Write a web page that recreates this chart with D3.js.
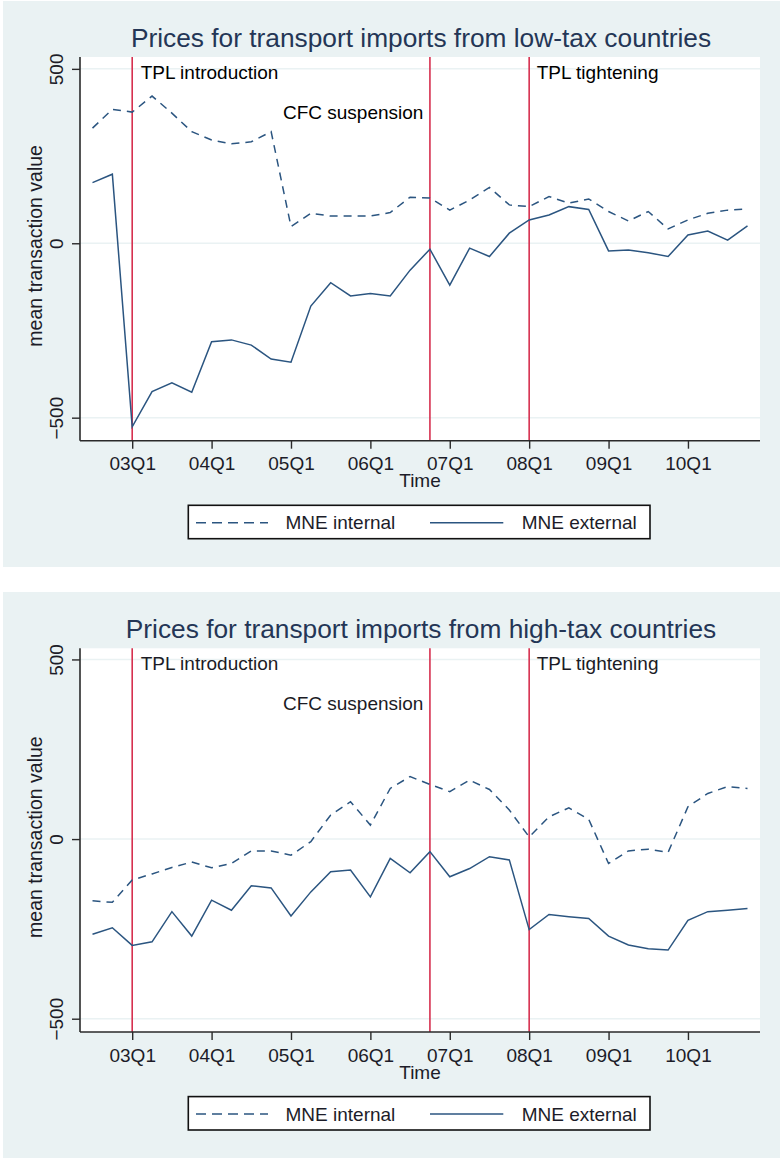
<!DOCTYPE html>
<html>
<head>
<meta charset="utf-8">
<script src="https://cdn.jsdelivr.net/npm/d3@7"></script>
<style>
  html, body { margin: 0; padding: 0; background: #ffffff; }
  svg { display: block; }
  text { font-family: "Liberation Sans", Arial, sans-serif; }
</style>
</head>
<body>
<svg id="chart" width="780" height="1158"></svg>
<script>
// ---------- data ----------
const quarters = ["02Q3","02Q4","03Q1","03Q2","03Q3","03Q4","04Q1","04Q2","04Q3","04Q4",
  "05Q1","05Q2","05Q3","05Q4","06Q1","06Q2","06Q3","06Q4","07Q1","07Q2","07Q3","07Q4",
  "08Q1","08Q2","08Q3","08Q4","09Q1","09Q2","09Q3","09Q4","10Q1","10Q2","10Q3","10Q4"];

const xTickLabels = ["03Q1","04Q1","05Q1","06Q1","07Q1","08Q1","09Q1","10Q1"];
const yTickValues = [-500, 0, 500];

const lowInternal = [330, 384, 376, 422, 373, 320, 296, 285, 291, 320,
  48, 86, 78, 78, 78, 88, 132, 130, 95, 124, 160, 110,
  105, 134, 115, 127, 91, 64, 91, 41, 67, 86, 95, 98];
const lowExternal = [174, 198, -526, -425, -400, -427, -282, -277, -292, -332,
  -341, -180, -113, -151, -144, -151, -77, -17, -120, -14, -38, 29,
  67, 81, 105, 97, -22, -19, -27, -38, 24, 35, 9, 50];

const highInternal = [-172, -176, -114, -97, -79, -64, -80, -68, -33, -33,
  -45, -7, 67, 104, 39, 141, 174, 152, 132, 164, 138, 81,
  6, 62, 87, 55, -68, -33, -28, -37, 90, 127, 146, 141];
const highExternal = [-265, -247, -296, -286, -202, -270, -170, -198, -130, -136,
  -214, -147, -91, -86, -161, -54, -94, -35, -105, -82, -49, -58,
  -252, -210, -216, -221, -270, -295, -305, -309, -226, -202, -198, -193];

const eventQuarters = ["03Q1", "06Q4", "08Q1"];
const eventLabels = ["TPL introduction", "CFC suspension", "TPL tightening"];
const seriesNames = ["MNE internal", "MNE external"];
const titles = ["Prices for transport imports from low-tax countries",
                "Prices for transport imports from high-tax countries"];

// ---------- helpers ----------
function qIndex(lbl) {
  const yr = +lbl.slice(0, 2), q = +lbl.slice(3, 4);
  return (yr - 3) * 4 + (q - 1);
}

const svg = d3.select("#chart");
const BG = "#eaf2f3";
const NAVY = "#2b5580";
const RED = "#d6304f";

const panels = [
  { bgTop: 1, bgBottom: 567, plotTop: 57, yDomain: [-566, 534],
    title: titles[0], internal: lowInternal, external: lowExternal, labelColor: "#000" },
  { bgTop: 592, bgBottom: 1158, plotTop: 648.3, yDomain: [-537, 531],
    title: titles[1], internal: highInternal, external: highExternal, labelColor: "#1b1b25" }
];

const plotLeft = 80, plotRight = 760, plotH = 383.7;

panels.forEach(p => {
  const g = svg.append("g");
  const top = p.plotTop, bottom = p.plotTop + plotH;

  g.append("rect").attr("x", 3).attr("y", p.bgTop)
    .attr("width", 777).attr("height", p.bgBottom - p.bgTop).attr("fill", BG);
  g.append("rect").attr("x", plotLeft).attr("y", top)
    .attr("width", plotRight - plotLeft).attr("height", plotH).attr("fill", "#fff");

  const x = d3.scaleLinear().domain([-2.63, 31.63]).range([plotLeft, plotRight]);
  const y = d3.scaleLinear().domain(p.yDomain).range([bottom, top]);

  // gridlines
  g.selectAll(".grid").data(yTickValues).enter().append("line")
    .attr("x1", plotLeft).attr("x2", plotRight)
    .attr("y1", d => y(d)).attr("y2", d => y(d))
    .attr("stroke", BG).attr("stroke-width", 1.5);

  // title
  g.append("text").attr("x", 421).attr("y", top - 10)
    .attr("text-anchor", "middle").attr("font-size", 26.3)
    .attr("fill", "#243656").text(p.title);

  // event lines
  eventQuarters.forEach((eq, i) => {
    const ex = x(qIndex(eq));
    g.append("line").attr("x1", ex).attr("x2", ex).attr("y1", top).attr("y2", bottom)
      .attr("stroke", RED).attr("stroke-width", 1.6);
  });
  // event labels
  g.append("text").attr("x", x(qIndex(eventQuarters[0])) + 8.5).attr("y", top + 22)
    .attr("font-size", 19).attr("fill", p.labelColor).text(eventLabels[0]);
  g.append("text").attr("x", x(qIndex(eventQuarters[1])) - 6.5).attr("y", top + 61.5)
    .attr("text-anchor", "end")
    .attr("font-size", 19).attr("fill", p.labelColor).text(eventLabels[1]);
  g.append("text").attr("x", x(qIndex(eventQuarters[2])) + 7.5).attr("y", top + 22)
    .attr("font-size", 19).attr("fill", p.labelColor).text(eventLabels[2]);

  // series
  const line = d3.line().x((d, i) => x(qIndex(quarters[i]))).y(d => y(d));
  g.append("path").datum(p.internal).attr("d", line)
    .attr("fill", "none").attr("stroke", NAVY).attr("stroke-width", 1.5)
    .attr("stroke-dasharray", "8,6");
  g.append("path").datum(p.external).attr("d", line)
    .attr("fill", "none").attr("stroke", NAVY).attr("stroke-width", 1.5);

  // y axis
  const yAxis = d3.axisLeft(y).tickValues(yTickValues).tickSize(8).tickFormat(d3.format("d"));
  const ya = g.append("g").attr("transform", `translate(${plotLeft},0)`).call(yAxis);
  ya.select(".domain").attr("d", `M0,${top}V${bottom}`).attr("stroke", "#2a2a2a").attr("stroke-width", 1.6);
  ya.selectAll(".tick line").attr("stroke", "#2a2a2a").attr("stroke-width", 1.4);
  ya.selectAll(".tick text")
    .attr("font-size", 19).attr("fill", "#1c1c28")
    .attr("text-anchor", "middle")
    .attr("x", 0).attr("dy", 0)
    .attr("transform", "translate(-17.5,0) rotate(-90)")
    .attr("y", 0);

  // x axis
  const xAxis = d3.axisBottom(x).tickValues(xTickLabels.map(qIndex)).tickSize(8)
    .tickFormat((d, i) => xTickLabels[i]);
  const xa = g.append("g").attr("transform", `translate(0,${bottom})`).call(xAxis);
  xa.select(".domain").attr("d", `M${plotLeft},0H${plotRight}`).attr("stroke", "#2a2a2a").attr("stroke-width", 1.6);
  xa.selectAll(".tick line").attr("stroke", "#2a2a2a").attr("stroke-width", 1.4);
  xa.selectAll(".tick text").attr("font-size", 19).attr("fill", "#1c1c28")
    .attr("y", 29.5).attr("dy", 0);
  svg.selectAll("g.tick text").style("font-family", "'Liberation Sans', Arial, sans-serif");

  // axis titles
  g.append("text").attr("x", 420).attr("y", bottom + 46.6)
    .attr("text-anchor", "middle").attr("font-size", 19).attr("fill", "#1c1c28").text("Time");
  g.append("text").attr("transform", `translate(42.3,${(top + bottom) / 2 - 3}) rotate(-90)`)
    .attr("text-anchor", "middle").attr("font-size", 19.5).attr("fill", "#1c1c28")
    .text("mean transaction value");

  // legend
  const ly = bottom + 64.6;
  g.append("rect").attr("x", 188.3).attr("y", ly).attr("width", 461.7).attr("height", 33.4)
    .attr("fill", "#fff").attr("stroke", "#111").attr("stroke-width", 1.6);
  const midY = ly + 17.4;
  g.append("line").attr("x1", 196).attr("x2", 268).attr("y1", midY).attr("y2", midY)
    .attr("stroke", NAVY).attr("stroke-width", 1.5).attr("stroke-dasharray", "10,6");
  g.append("text").attr("x", 285.5).attr("y", ly + 24).attr("font-size", 19)
    .attr("fill", "#1c1c28").text(seriesNames[0]);
  g.append("line").attr("x1", 430).attr("x2", 503.3).attr("y1", midY).attr("y2", midY)
    .attr("stroke", NAVY).attr("stroke-width", 1.5);
  g.append("text").attr("x", 521.7).attr("y", ly + 24).attr("font-size", 19)
    .attr("fill", "#1c1c28").text(seriesNames[1]);
});
</script>
</body>
</html>
